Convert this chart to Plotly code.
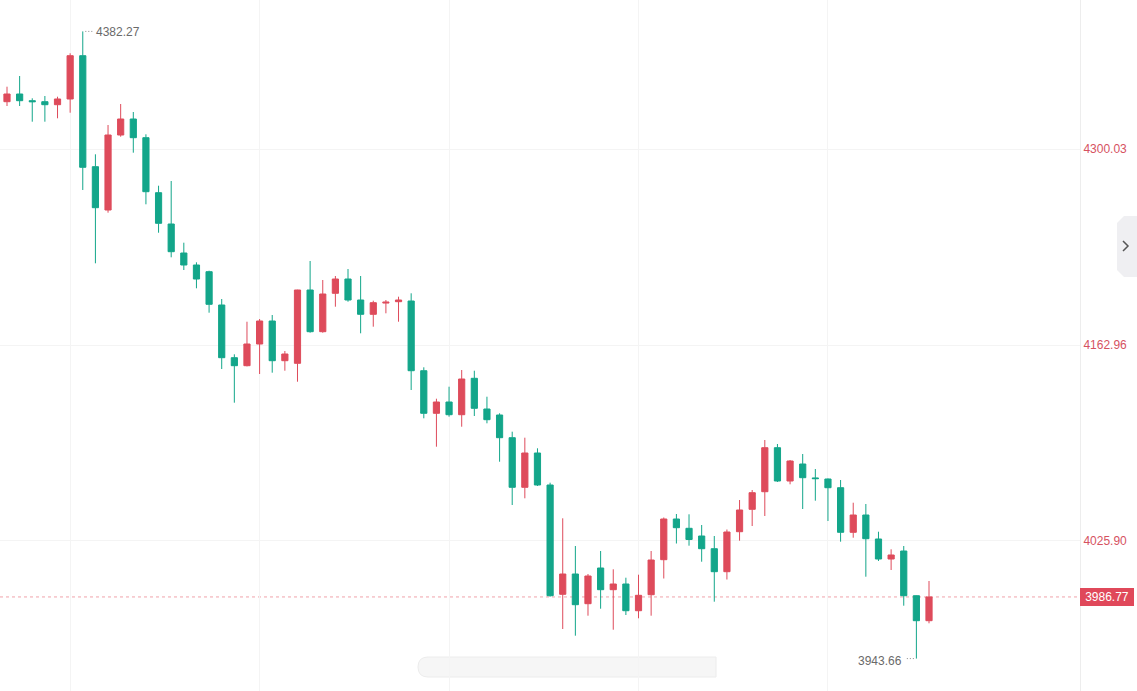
import plotly.graph_objects as go

# ---- data ----
opens = [4333.11, 4338.49, 4333.81, 4333.11, 4331.01, 4335.00, 4365.28, 4287.65, 4257.37, 4309.82,
         4321.01, 4307.93, 4269.47, 4247.58, 4227.30, 4218.90, 4214.22, 4190.93, 4154.08, 4148.48,
         4163.66, 4179.74, 4151.98, 4150.16, 4201.42, 4172.26, 4199.11, 4209.11, 4194.43, 4184.43,
         4192.30, 4193.24, 4193.73, 4144.98, 4115.19, 4123.10, 4114.21, 4139.67, 4118.20, 4114.00,
         4098.13, 4063.44, 4087.43, 4065.05, 3988.61, 4002.81, 3982.04, 4007.00, 3991.83, 3995.82,
         3977.14, 3988.33, 4012.81, 4041.27, 4034.77, 4029.38, 4020.50, 4004.42, 4032.39, 4048.06,
         4060.36, 4091.14, 4067.85, 4079.74, 4070.00, 4069.25, 4063.16, 4031.97, 4044.07, 4027.29,
         4013.30, 4018.89, 3987.63, 3970.15]
highs = [4343.60, 4351.08, 4335.48, 4337.09, 4336.60, 4366.96, 4382.27, 4296.32, 4316.81, 4331.50,
         4325.90, 4310.31, 4274.36, 4277.65, 4234.50, 4220.79, 4214.92, 4195.13, 4156.45, 4179.25,
         4181.14, 4183.94, 4158.76, 4201.60, 4221.70, 4208.41, 4211.21, 4216.11, 4211.21, 4193.94,
         4194.43, 4196.74, 4199.11, 4147.36, 4125.40, 4133.79, 4145.47, 4144.98, 4126.80, 4115.19,
         4102.33, 4098.13, 4090.72, 4066.66, 4041.76, 4022.39, 4002.81, 4018.89, 4006.10, 4000.22,
         4002.32, 4018.89, 4042.32, 4044.77, 4044.56, 4037.08, 4029.38, 4033.93, 4054.56, 4061.55,
         4096.52, 4093.72, 4082.53, 4086.73, 4076.24, 4069.60, 4068.55, 4052.67, 4051.76, 4032.39,
         4020.08, 4022.39, 3987.80, 3997.91]
lows = [4330.10, 4330.10, 4319.12, 4319.12, 4321.50, 4325.41, 4271.36, 4220.09, 4255.48, 4308.63,
        4297.44, 4261.35, 4241.49, 4224.29, 4215.41, 4202.61, 4185.55, 4146.17, 4122.61, 4148.00,
        4142.68, 4143.59, 4144.98, 4137.29, 4171.56, 4171.56, 4189.74, 4193.24, 4171.14, 4175.76,
        4185.13, 4179.25, 4131.49, 4111.70, 4091.83, 4112.82, 4105.82, 4113.30, 4108.20, 4081.34,
        4051.06, 4055.75, 4064.35, 3987.00, 3964.35, 3959.66, 3973.65, 3978.54, 3963.85, 3974.14,
        3971.83, 3973.65, 3999.66, 4024.14, 4022.60, 4011.41, 3983.44, 3998.96, 4026.10, 4036.38,
        4043.37, 4067.15, 4065.54, 4048.27, 4054.07, 4039.87, 4025.40, 4028.19, 4000.92, 4011.90,
        4005.61, 3980.64, 3943.66, 3968.33]
closes = [4338.49, 4333.81, 4333.11, 4331.01, 4335.00, 4365.28, 4287.23, 4258.98, 4309.82, 4321.01,
          4307.93, 4270.17, 4248.07, 4228.21, 4218.90, 4209.11, 4191.42, 4154.08, 4148.48, 4163.66,
          4179.74, 4151.98, 4156.66, 4201.42, 4172.26, 4198.62, 4209.11, 4194.43, 4184.43, 4192.54,
          4192.90, 4194.43, 4144.98, 4115.19, 4123.10, 4114.21, 4139.18, 4118.69, 4110.72, 4098.13,
          4063.44, 4087.43, 4065.05, 3987.63, 4002.81, 3981.34, 4001.41, 3991.83, 3995.82, 3977.14,
          3987.91, 4012.60, 4041.27, 4035.19, 4026.94, 4020.50, 4004.42, 4032.18, 4047.57, 4059.67,
          4091.14, 4067.85, 4081.83, 4070.16, 4069.50, 4063.16, 4031.97, 4044.07, 4027.50, 4013.30,
          4016.10, 3987.63, 3970.15, 3986.77]
x_idx = list(range(len(opens)))

y_tick_vals = [4300.03, 4162.96, 4025.90]
y_tick_text = ["4300.03", "4162.96", "4025.90"]
x_grid_vals = [5, 20, 35, 50, 65]

high_label = "4382.27"
high_value = 4382.27
high_index = 6
low_label = "3943.66"
low_value = 3943.66
low_index = 72
last_label = "3986.77"
last_value = 3986.77

RED = "#de4b5b"
GREEN = "#13a68a"
FONT = "Liberation Sans, Arial, sans-serif"

W, H = 1137, 691
PLOT_W = 1080


def px(xp):
    return xp / PLOT_W


def py(yp):
    return 1 - yp / H


fig = go.Figure()
fig.add_trace(go.Candlestick(
    x=x_idx, open=opens, high=highs, low=lows, close=closes,
    increasing=dict(line=dict(color=RED, width=1), fillcolor=RED),
    decreasing=dict(line=dict(color=GREEN, width=1), fillcolor=GREEN),
    whiskerwidth=0, hoverinfo="skip",
))

shapes = []
# last price dashed line
shapes.append(dict(type="line", xref="paper", yref="y", x0=0, x1=1, y0=last_value, y1=last_value,
                   line=dict(color="#f0a2aa", width=1, dash="3px,3px"), layer="below"))
# dotted leaders for high / low labels
shapes.append(dict(type="line", xref="x", yref="y", x0=high_index + 0.2, x1=high_index + 0.8,
                   y0=high_value, y1=high_value, line=dict(color="#8a8a8a", width=1, dash="1px,2px")))
shapes.append(dict(type="line", xref="x", yref="y", x0=low_index - 0.2, x1=low_index - 0.8,
                   y0=low_value, y1=low_value, line=dict(color="#8a8a8a", width=1, dash="1px,2px")))
# faint navigator bar at bottom
shapes.append(dict(type="path", xref="paper", yref="paper",
                   path=(f"M {px(428)} {py(657)} L {px(716)} {py(657)} L {px(716)} {py(677)} "
                         f"L {px(428)} {py(677)} Q {px(418)} {py(677)} {px(418)} {py(667)} "
                         f"Q {px(418)} {py(657)} {px(428)} {py(657)} Z"),
                   fillcolor="#f6f6f6", line=dict(color="#ececec", width=1), layer="below"))
# right collapse tab
shapes.append(dict(type="path", xref="paper", yref="paper",
                   path=(f"M {px(1124)} {py(216)} L {px(1137)} {py(216)} L {px(1137)} {py(277)} "
                         f"L {px(1124)} {py(277)} L {px(1117)} {py(270)} L {px(1117)} {py(223)} Z"),
                   fillcolor="#efeff2", line=dict(width=0)))
shapes.append(dict(type="path", xref="paper", yref="paper",
                   path=f"M {px(1123)} {py(241)} L {px(1128)} {py(246)} L {px(1123)} {py(251)}",
                   line=dict(color="#555555", width=1.5)))

annotations = [
    dict(x=high_index, y=high_value, xref="x", yref="y", text=high_label, showarrow=False,
         xanchor="left", yanchor="middle", xshift=11, yshift=-1,
         font=dict(family=FONT, size=12, color="#6a6a6a")),
    dict(x=low_index, y=low_value, xref="x", yref="y", text=low_label, showarrow=False,
         xanchor="right", yanchor="middle", xshift=-12, yshift=-2,
         font=dict(family=FONT, size=12, color="#6a6a6a")),
    dict(x=1, y=last_value, xref="paper", yref="y", text=last_label, showarrow=False,
         xanchor="left", yanchor="middle", bgcolor="#e0485a", borderwidth=0, borderpad=2,
         width=50, height=14, font=dict(family=FONT, size=12, color="#ffffff")),
]

fig.update_layout(
    width=W, height=H,
    margin=dict(l=0, r=W - PLOT_W, t=0, b=0),
    paper_bgcolor="#ffffff", plot_bgcolor="#ffffff",
    showlegend=False,
    shapes=shapes, annotations=annotations,
    xaxis=dict(range=[-0.554, 84.955], rangeslider=dict(visible=False), tickvals=x_grid_vals,
               showticklabels=False, showgrid=True, gridcolor="#f4f4f4", gridwidth=1,
               zeroline=False, showline=False, ticks=""),
    yaxis=dict(range=[3920.99, 4404.23], side="right", tickvals=y_tick_vals, ticktext=y_tick_text,
               showgrid=True, gridcolor="#f4f4f4", gridwidth=1, zeroline=False,
               showline=True, linecolor="#ededed", linewidth=1, ticks="",
               tickfont=dict(family=FONT, size=12, color="#d6525f")),
    hovermode=False,
)

fig.write_html("out.html")
